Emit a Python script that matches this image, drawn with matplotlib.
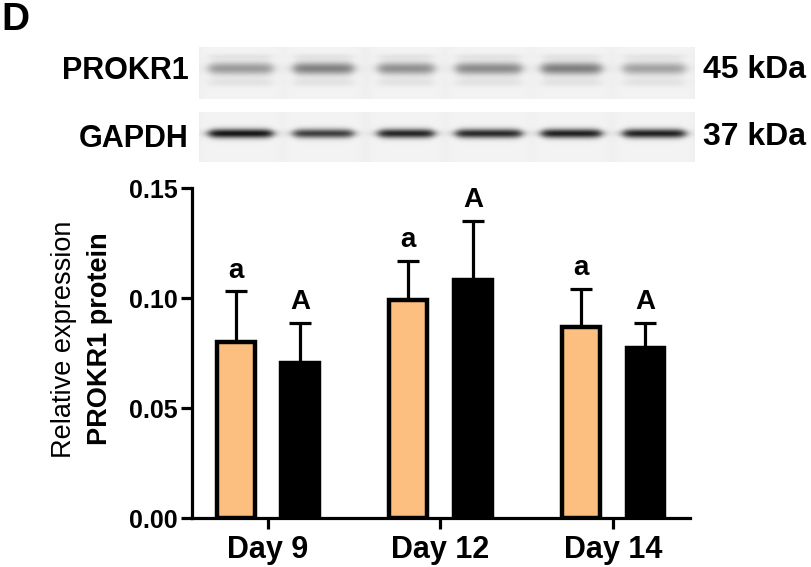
import numpy as np
import matplotlib
matplotlib.use("Agg")
import matplotlib.pyplot as plt

plt.rcParams['font.family'] = ['Liberation Sans', 'DejaVu Sans']

# chart data
days = ['Day 9', 'Day 12', 'Day 14']
ctrl_mean = [0.080, 0.099, 0.087]
ctrl_sd = [0.023, 0.018, 0.017]
treat_mean = [0.0705, 0.108, 0.0775]
treat_sd = [0.018, 0.027, 0.0113]
ctrl_letters = ['a', 'a', 'a']
treat_letters = ['A', 'A', 'A']

# western blot band darkness per lane
prokr1_dark = [0.34, 0.44, 0.38, 0.40, 0.45, 0.31]
gapdh_dark = [0.86, 0.70, 0.80, 0.78, 0.82, 0.82]
lane_halfw = [32, 30, 28, 33, 30, 31]

W, H = 812, 567
fig = plt.figure(figsize=(W / 100, H / 100), dpi=100)


def fx(px):
    return px / W


def fy(py):
    return 1 - py / H


def make_blot(h, w, y0, sigma, dark, faint):
    yy, xx = np.mgrid[0:h, 0:w].astype(float)
    img = np.full((h, w), 0.93)
    centers = (np.arange(6) + 0.5) * w / 6
    for c, d, hw in zip(centers, dark, lane_halfw):
        lane = 1 / (1 + np.exp((np.abs(xx - c) - hw - 8) / 2.0))
        img += 0.02 * lane
        hx = 1 / (1 + np.exp((np.abs(xx - c) - hw) / 3.0))
        # bands taper towards their ends
        sig = sigma * (0.75 + 0.25 * hx)
        vy = np.exp(-0.5 * ((yy - y0) / sig) ** 2)
        img -= d * hx * vy
        if faint:
            img -= 0.05 * hx * np.exp(-0.5 * ((yy - y0 + 12) / 2.0) ** 2)
            img -= 0.06 * hx * np.exp(-0.5 * ((yy - y0 - 14) / 3.0) ** 2)
    return np.clip(img, 0, 1)


# blots
ax_b1 = fig.add_axes([fx(199), fy(99), fx(496), 52 / H])
ax_b1.imshow(make_blot(52, 496, 21, 4.5, prokr1_dark, True), cmap='gray',
             vmin=0, vmax=1, aspect='auto', interpolation='bilinear')
ax_b1.axis('off')
ax_b2 = fig.add_axes([fx(199), fy(162), fx(496), 50 / H])
ax_b2.imshow(make_blot(50, 496, 21, 3.3, gapdh_dark, False), cmap='gray',
             vmin=0, vmax=1, aspect='auto', interpolation='bilinear')
ax_b2.axis('off')

fig.text(fx(1), fy(2), 'D', fontsize=28, fontweight='bold', va='top', ha='left')
fig.text(fx(189), fy(79), 'PROKR1', fontsize=22, fontweight='bold', ha='right', va='baseline')
fig.text(fx(189), fy(147), 'GAPDH', fontsize=22, fontweight='bold', ha='right', va='baseline')
fig.text(fx(703), fy(78), '45 kDa', fontsize=23, fontweight='bold', ha='left', va='baseline')
fig.text(fx(703), fy(145), '37 kDa', fontsize=23, fontweight='bold', ha='left', va='baseline')

# bar chart
ax = fig.add_axes([fx(191.7), fy(518), fx(690 - 191.7), 330 / H])
x = np.arange(len(days))
bw = 0.22
off_c, off_t = -0.185, 0.19
ax.bar(x + off_c, ctrl_mean, bw, color='#FDBF80', edgecolor='black', linewidth=3.2, zorder=3)
ax.bar(x + off_t, treat_mean, bw, color='black', edgecolor='black', linewidth=3.2, zorder=3)
zeros = np.zeros(len(days))
ax.errorbar(x + off_c, ctrl_mean, yerr=[zeros, ctrl_sd], fmt='none', ecolor='black',
            elinewidth=2.3, capsize=8, capthick=2.3, zorder=2)
ax.errorbar(x + off_t, treat_mean, yerr=[zeros, treat_sd], fmt='none', ecolor='black',
            elinewidth=2.3, capsize=8, capthick=2.3, zorder=2)

for i in range(len(days)):
    ax.annotate(ctrl_letters[i], (x[i] + off_c, ctrl_mean[i] + ctrl_sd[i]),
                xytext=(0, 10), textcoords='offset points', ha='center', va='baseline',
                fontsize=20, fontweight='bold', annotation_clip=False)
    ax.annotate(treat_letters[i], (x[i] + off_t, treat_mean[i] + treat_sd[i]),
                xytext=(0, 10), textcoords='offset points', ha='center', va='baseline',
                fontsize=20, fontweight='bold', annotation_clip=False)

ax.set_xlim(-0.44, 2.448)
ax.set_ylim(0, 0.15)
ax.set_yticks([0, 0.05, 0.10, 0.15])
ax.set_yticklabels(['0.00', '0.05', '0.10', '0.15'], fontsize=18, fontweight='bold')
ax.set_xticks(x)
ax.set_xticklabels(days, fontsize=22, fontweight='bold')
ax.spines['top'].set_visible(False)
ax.spines['right'].set_visible(False)
ax.spines['left'].set_linewidth(2.3)
ax.spines['bottom'].set_linewidth(2.3)
ax.tick_params(axis='y', length=8, width=2.3, pad=2)
ax.tick_params(axis='x', length=8, width=2.3, pad=4)

fig.text(fx(64), fy(339), 'Relative expression', fontsize=19.5, rotation=90,
         ha='center', va='center')
fig.text(fx(100), fy(339), 'PROKR1 protein', fontsize=19.5, fontweight='bold',
         rotation=90, ha='center', va='center')

fig.savefig('out.png', dpi=100)
